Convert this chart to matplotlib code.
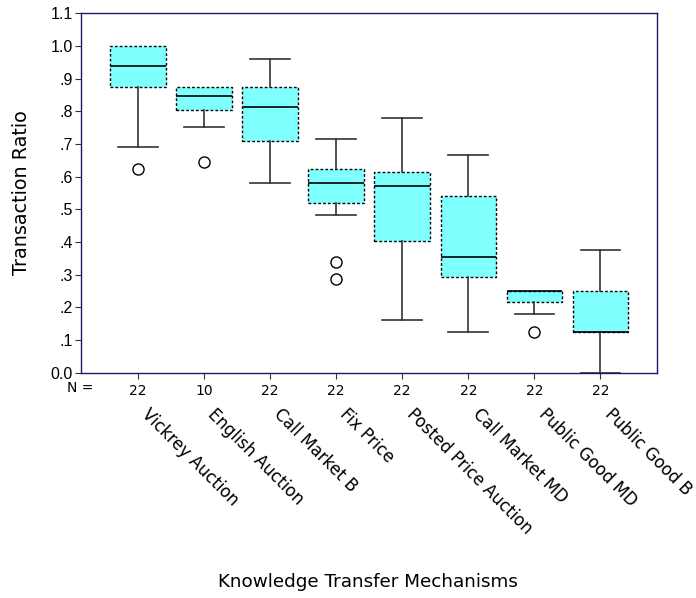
import matplotlib
matplotlib.use("Agg")
import matplotlib.pyplot as plt

categories = ["Vickrey Auction", "English Auction", "Call Market B", "Fix Price",
              "Posted Price Auction", "Call Market MD", "Public Good MD", "Public Good B"]
n_counts = [22, 10, 22, 22, 22, 22, 22, 22]
q1 = [0.875, 0.804, 0.708, 0.518, 0.404, 0.294, 0.215, 0.125]
med = [0.939, 0.848, 0.8125, 0.580, 0.571, 0.354, 0.250, 0.125]
q3 = [1.000, 0.875, 0.875, 0.623, 0.614, 0.541, 0.250, 0.250]
whislo = [0.690, 0.751, 0.582, 0.482, 0.161, 0.124, 0.179, 0.000]
whishi = [1.000, 0.875, 0.960, 0.714, 0.778, 0.666, 0.250, 0.375]
fliers = [[0.623], [0.644], [], [0.338, 0.286], [], [], [0.124], []]
yticks = [0.0, 0.1, 0.2, 0.3, 0.4, 0.5, 0.6, 0.7, 0.8, 0.9, 1.0, 1.1]
ytick_labels = ["0.0", ".1", ".2", ".3", ".4", ".5", ".6", ".7", ".8", ".9", "1.0", "1.1"]

plt.rcParams['font.family'] = ['DejaVu Sans']

fig = plt.figure(figsize=(6.96, 5.98), dpi=100)
ax = fig.add_axes([0.1164, 0.3768, 0.8271, 0.6010])

stats = []
for i in range(len(categories)):
    stats.append(dict(med=med[i], q1=q1[i], q3=q3[i], whislo=whislo[i],
                      whishi=whishi[i], fliers=fliers[i], label=str(n_counts[i])))

positions = list(range(1, len(categories) + 1))
res = ax.bxp(stats, positions=positions, widths=0.84, patch_artist=True,
             showfliers=True,
             boxprops=dict(facecolor='#80FFFF', edgecolor='black', linewidth=1.0,
                           linestyle=(0, (2, 1.5))),
             medianprops=dict(color='black', linewidth=1.2),
             whiskerprops=dict(color='#333333', linewidth=1.2),
             capprops=dict(color='#333333', linewidth=1.2),
             capwidths=0.6,
             flierprops=dict(marker='o', markerfacecolor='white', markeredgecolor='black',
                             markersize=8, markeredgewidth=1.0, linestyle='none'))

for i in range(len(categories)):
    if whislo[i] == q1[i]:
        res['caps'][2 * i].set_visible(False)
        res['whiskers'][2 * i].set_visible(False)
    if whishi[i] == q3[i]:
        res['caps'][2 * i + 1].set_visible(False)
        res['whiskers'][2 * i + 1].set_visible(False)

ax.set_xlim(0.14, 8.85)
ax.set_ylim(0.0, 1.1)
ax.set_yticks(yticks)
ax.set_yticklabels(ytick_labels, fontfamily='Liberation Sans', fontsize=11.5)
ax.set_xticks(positions)
ax.set_xticklabels([str(n) for n in n_counts], fontsize=10)
ax.tick_params(axis='both', length=4, color='#333333')
ax.tick_params(axis='y', pad=2)
ax.tick_params(axis='x', pad=4)
for s in ax.spines.values():
    s.set_color('#1a1a66')
    s.set_linewidth(1.0)

for p, c in zip(positions, categories):
    ax.text(p + 0.2, -0.09, c, transform=ax.get_xaxis_transform(), rotation=-45,
            ha='left', va='top', rotation_mode='anchor', fontsize=12)

fig.text(80 / 696, 1 - 388 / 598, "N =", ha='center', va='center', fontsize=10)
ax.set_ylabel("Transaction Ratio", fontsize=13.8, labelpad=14)
fig.text(368 / 696, 1 - 582 / 598, "Knowledge Transfer Mechanisms", ha='center',
         va='center', fontsize=13.2)

fig.savefig("out.png", dpi=100)
